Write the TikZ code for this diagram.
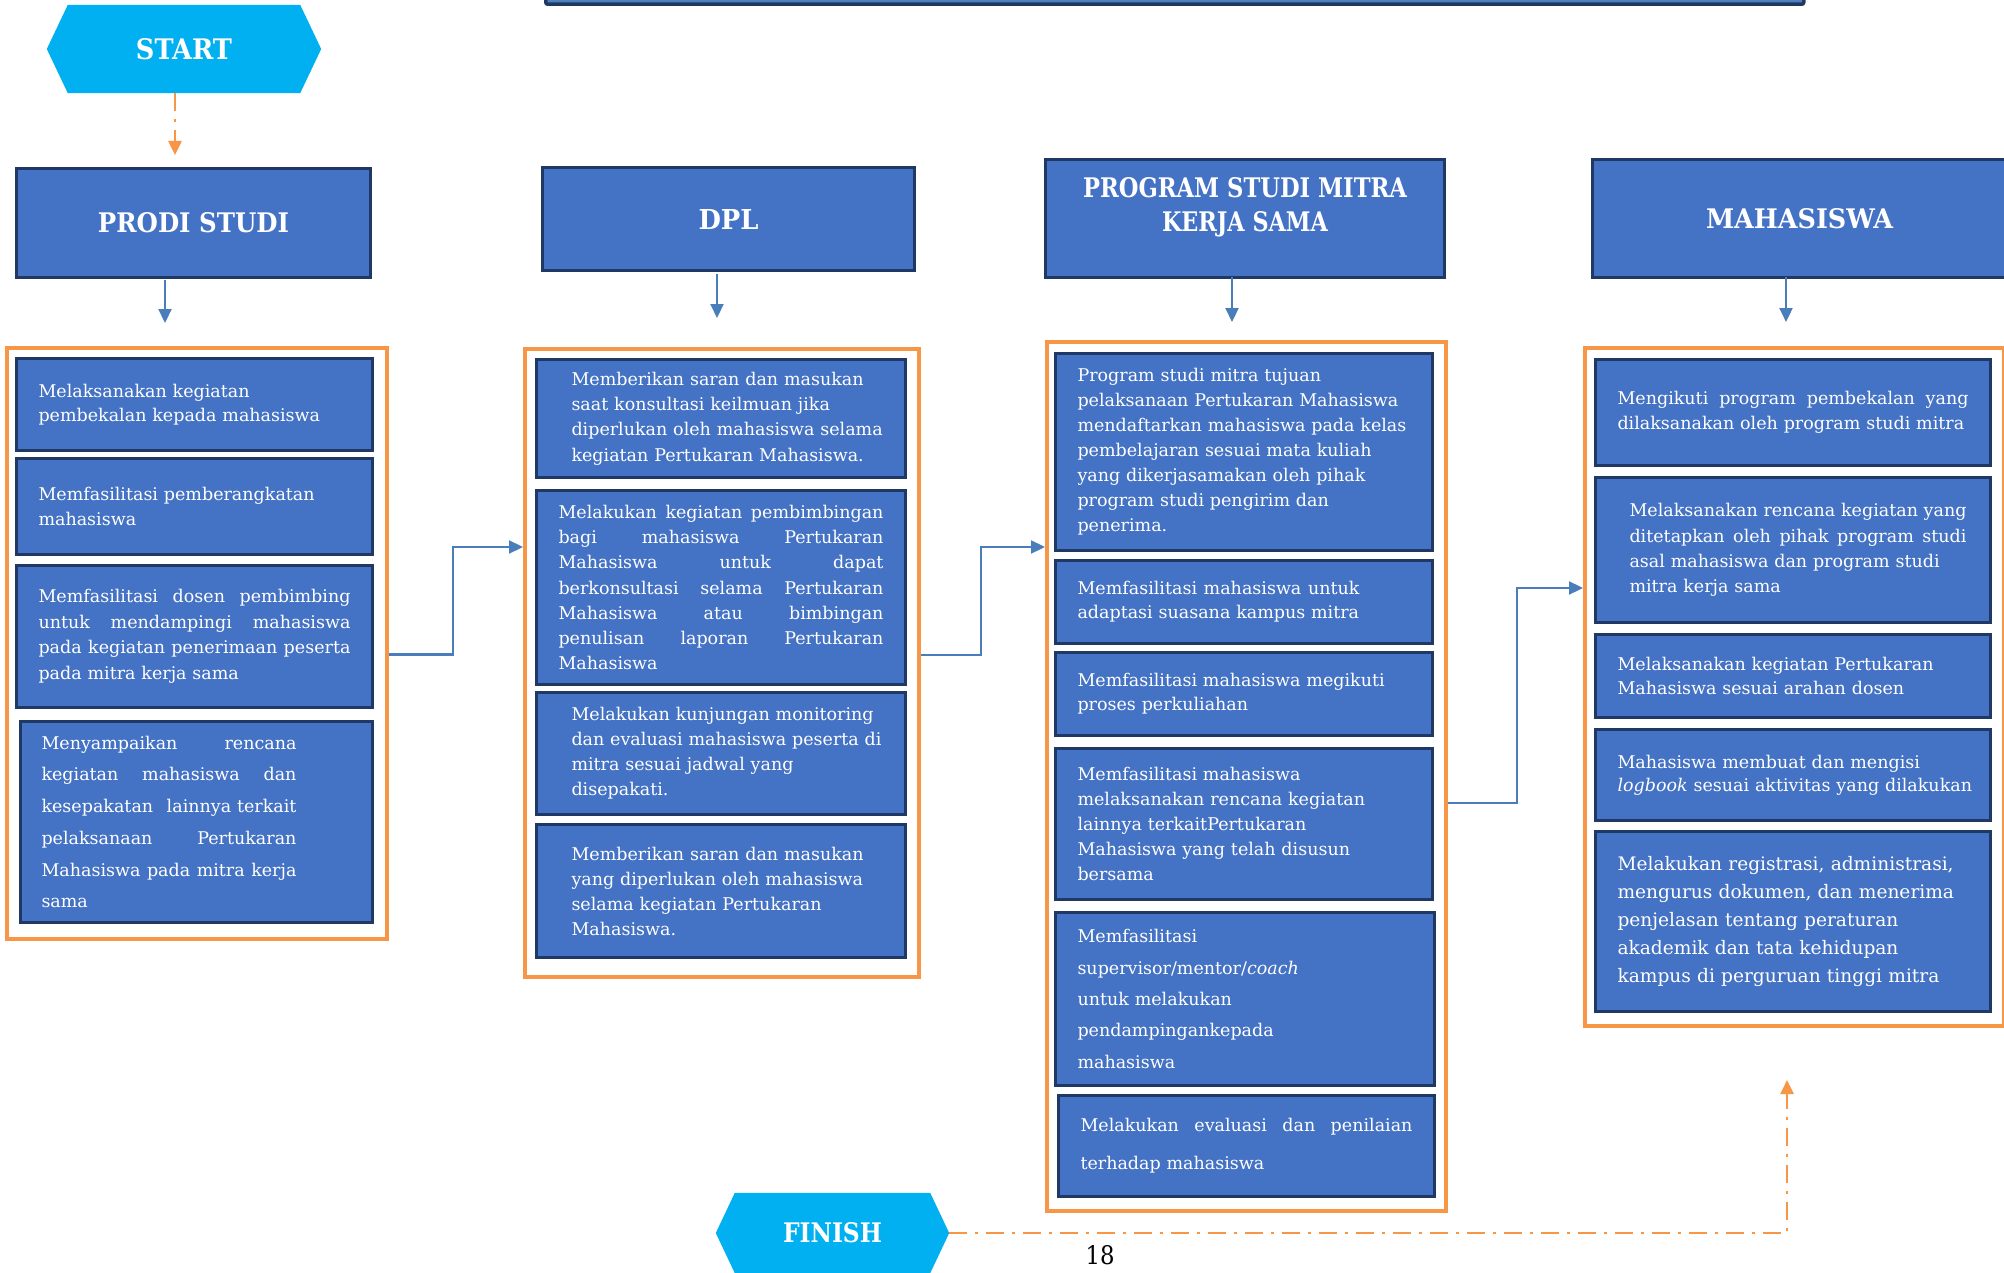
\documentclass[tikz,border=0pt]{standalone}
\usepackage{fontspec}
\setmainfont{DejaVu Serif}
\usepackage{graphicx}
\usetikzlibrary{arrows.meta,backgrounds}
\definecolor{boxblue}{HTML}{4472C4}
\definecolor{navy}{HTML}{1F3864}
\definecolor{orng}{HTML}{F79646}
\definecolor{lineblue}{HTML}{4A7EBB}
\definecolor{hexcyan}{HTML}{00B0F0}
\definecolor{barblue}{HTML}{4F81BD}
\newcommand\rl[1]{\leavevmode\hbox{#1}}
\newcommand\jl[2][\hsize]{\leavevmode\hbox to #1{#2}}
\newcommand\s{\hskip 0.3em plus 1fil\relax}
\newcommand\hdr[3]{\resizebox{#1pt}{#2pt}{\bfseries #3}}
\tikzset{
  frame/.style={draw=orng, line width=4pt, anchor=north west, inner sep=0pt},
  hdrbox/.style={draw=navy, fill=boxblue, line width=3pt, anchor=north west, inner sep=0pt, text=white},
  cell/.style n args={4}{draw=navy, fill=boxblue, line width=3pt, anchor=north west, text=white,
     inner ysep=0pt, minimum width=#1pt, minimum height=#2pt, inner xsep=#3pt,
     text width=#1pt-2*#3pt, font=\fontsize{17.5}{#4}\selectfont},
  conn/.style={draw=lineblue, line width=2.2pt, -{Triangle[length=14pt,width=13pt]}},
  oarr/.style={draw=orng, line width=2.5pt, dash pattern=on 18pt off 8pt on 3pt off 8pt, -{Triangle[length=14pt,width=13pt]}},
}
\begin{document}
\begin{tikzpicture}[x=1pt,y=-1pt]
\useasboundingbox (0,0) rectangle (2004,1273);

% top bar (cut off)
\node[draw=navy, fill=barblue, line width=3.5pt, rounded corners=2pt, minimum width=1258pt, minimum height=40pt, anchor=south west, inner sep=0pt] (topbar) at (544,6) {};

% start / finish
\node[minimum width=274pt, minimum height=88pt, inner sep=0pt, text=white] (start) at (184,49) {\hdr{96}{21}{START}};
\node[minimum width=233pt, minimum height=80pt, inner sep=0pt, text=white] (finish) at (832.5,1233) {\hdr{99}{20}{FINISH}};
\begin{scope}[on background layer]
\fill[hexcyan] (start.west) -- ([xshift=21pt]start.north west) -- ([xshift=-21pt]start.north east) -- (start.east) -- ([xshift=-21pt]start.south east) -- ([xshift=21pt]start.south west) -- cycle;
\fill[hexcyan] (finish.west) -- ([xshift=19pt]finish.north west) -- ([xshift=-19pt]finish.north east) -- (finish.east) -- ([xshift=-19pt]finish.south east) -- ([xshift=19pt]finish.south west) -- cycle;
\end{scope}

% headers
\node[hdrbox, minimum width=354pt, minimum height=109pt] (prodi) at (15,167) {\hdr{191}{20}{PRODI STUDI}};
\node[hdrbox, minimum width=372pt, minimum height=103pt] (dpl) at (541,166) {\hdr{60}{20}{DPL}};
\node[hdrbox, minimum width=399pt, minimum height=118pt, font=\fontsize{26}{34}\selectfont] (psm) at (1044,158)
  {\raisebox{11pt}[\height][\depth]{\begin{tabular}{@{}c@{}}\hdr{324}{20}{PROGRAM STUDI MITRA}\\\hdr{166}{20}{KERJA SAMA}\end{tabular}}};
\node[hdrbox, minimum width=414pt, minimum height=118pt] (mhs) at (1591,158) {\hdr{187}{20}{MAHASISWA}};

% frames
\node[frame, minimum width=380pt, minimum height=591pt] (lframe) at (5,346) {};
\node[frame, minimum width=394pt, minimum height=628pt] (dframe) at (523,347) {};
\node[frame, minimum width=399pt, minimum height=869pt] (pframe) at (1045,340) {};
\node[frame, minimum width=419pt, minimum height=678pt] (mframe) at (1583,346) {};

% PRODI STUDI column
\node[cell={356}{92}{22}{24.5}] (l1) at (15,357) {\rl{Melaksanakan kegiatan}\\\rl{pembekalan kepada mahasiswa}};
\node[cell={356}{96}{22}{24.5}] (l2) at (15,457) {\rl{Memfasilitasi pemberangkatan}\\\rl{mahasiswa}};
\node[cell={356}{142}{22}{25.5}] (l3) at (15,564) {\jl{Memfasilitasi\s dosen\s pembimbing}\\\jl{untuk\s mendampingi\s mahasiswa}\\\jl{pada\s kegiatan\s penerimaan\s peserta}\\\rl{pada mitra kerja sama}};
\node[cell={352}{201}{21}{31.7}] (l4) at (19,720) {\jl[255pt]{Menyampaikan\s rencana}\\\jl[255pt]{kegiatan\s mahasiswa\s dan}\\\jl[255pt]{kesepakatan\s lainnya terkait}\\\jl[255pt]{pelaksanaan\s Pertukaran}\\\jl[255pt]{Mahasiswa\s pada\s mitra\s kerja}\\\rl{sama}};

% DPL column
\node[cell={369}{118}{35}{25.2}] (d1) at (535,358) {\rl{Memberikan saran dan masukan}\\\rl{saat konsultasi keilmuan jika}\\\rl{diperlukan oleh mahasiswa selama}\\\rl{kegiatan Pertukaran Mahasiswa.}};
\node[cell={369}{194}{22}{25.3}] (d2) at (535,489) {\jl{Melakukan\s kegiatan\s pembimbingan}\\\jl{bagi\s mahasiswa\s Pertukaran}\\\jl{Mahasiswa\s untuk\s dapat}\\\jl{berkonsultasi\s selama\s Pertukaran}\\\jl{Mahasiswa\s atau\s bimbingan}\\\jl{penulisan\s laporan\s Pertukaran}\\\rl{Mahasiswa}};
\node[cell={369}{122}{35}{25.1}] (d3) at (535,691) {\rl{Melakukan kunjungan monitoring}\\\rl{dan evaluasi mahasiswa peserta di}\\\rl{mitra sesuai jadwal yang}\\\rl{disepakati.}};
\node[cell={369}{133}{35}{25}] (d4) at (535,823) {\rl{Memberikan saran dan masukan}\\\rl{yang diperlukan oleh mahasiswa}\\\rl{selama kegiatan Pertukaran}\\\rl{Mahasiswa.}};

% PROGRAM STUDI MITRA column
\node[cell={377}{197}{22}{25}] (p1) at (1054,352) {\rl{Program studi mitra tujuan}\\\rl{pelaksanaan Pertukaran Mahasiswa}\\\rl{mendaftarkan mahasiswa pada kelas}\\\rl{pembelajaran sesuai mata kuliah}\\\rl{yang dikerjasamakan oleh pihak}\\\rl{program studi pengirim dan}\\\rl{penerima.}};
\node[cell={377}{83}{22}{24.3}] (p2) at (1054,559) {\jl[282pt]{Memfasilitasi\s mahasiswa\s untuk}\\\rl{adaptasi suasana kampus mitra}};
\node[cell={377}{83}{22}{24.3}] (p3) at (1054,651) {\rl{Memfasilitasi mahasiswa megikuti}\\\rl{proses perkuliahan}};
\node[cell={377}{151}{22}{24.9}] (p4) at (1054,747) {\rl{Memfasilitasi mahasiswa}\\\rl{melaksanakan rencana kegiatan}\\\rl{lainnya terkaitPertukaran}\\\rl{Mahasiswa yang telah disusun}\\\rl{bersama}};
\node[cell={379}{173}{22}{31.3}] (p5) at (1054,911) {\rl{Memfasilitasi}\\\rl{supervisor/mentor/\textit{coach}}\\\rl{untuk melakukan}\\\rl{pendampingankepada}\\\rl{mahasiswa}};
\node[cell={376}{101}{22}{38}] (p6) at (1057,1094) {\jl{Melakukan\s evaluasi\s dan\s penilaian}\\\rl{terhadap mahasiswa}};

% MAHASISWA column
\node[cell={395}{106}{22}{24.5}] (m1) at (1594,358) {\jl{Mengikuti\s program\s pembekalan\s yang}\\\rl{dilaksanakan oleh program studi mitra}};
\node[cell={395}{145}{34}{25.3}] (m2) at (1594,476) {\jl[337pt]{Melaksanakan\s rencana\s kegiatan\s yang}\\\jl[337pt]{ditetapkan\s oleh\s pihak\s program\s studi}\\\rl{asal mahasiswa dan program studi}\\\rl{mitra kerja sama}};
\node[cell={395}{83}{22}{24.3}] (m3) at (1594,633) {\rl{Melaksanakan kegiatan Pertukaran}\\\rl{Mahasiswa sesuai arahan dosen}};
\node[cell={395}{91}{22}{23}] (m4) at (1594,728) {\rl{Mahasiswa membuat dan mengisi}\\\rl{\textit{logbook} sesuai aktivitas yang dilakukan}};
\node[cell={395}{180}{22}{27.8}, font=\fontsize{18.6}{27.8}\selectfont] (m5) at (1594,830) {\rl{Melakukan registrasi, administrasi,}\\\rl{mengurus dokumen, dan menerima}\\\rl{penjelasan tentang peraturan}\\\rl{akademik dan tata kehidupan}\\\rl{kampus di perguruan tinggi mitra}};

% page number
\node[inner sep=0pt, text=black] (pagenum) at (1100,1255) {\resizebox{29pt}{19pt}{18}};

% coordinates for connector ends and bends
\coordinate (sa) at (175,155);
\coordinate (h1s) at (165,280); \coordinate (h1e) at (165,323);
\coordinate (h2s) at (717,274); \coordinate (h2e) at (717,318);
\coordinate (h3s) at (1232,277); \coordinate (h3e) at (1232,322);
\coordinate (h4s) at (1786,277); \coordinate (h4e) at (1786,322);
\coordinate (k1) at (453,547);
\coordinate (k2) at (981,547);
\coordinate (k3) at (1517,588);
\coordinate (fa) at (1787,1080);

% connectors
\draw[oarr] (start.south -| sa) -- (sa);
\draw[conn] (h1s) -- (h1e);
\draw[conn] (h2s) -- (h2e);
\draw[conn] (h3s) -- (h3e);
\draw[conn] (h4s) -- (h4e);
\draw[conn] ([yshift=-11pt]lframe.east) -| (k1) -- (k1 -| dframe.west);
\draw[conn] ([yshift=8pt]dframe.east) -| (k2) -- (k2 -| pframe.west);
\draw[conn] ([yshift=-26.5pt]pframe.east) -| (k3) -- (k3 -| mframe.west);
\draw[oarr] (finish.east) -| (fa);
\end{tikzpicture}
\end{document}
